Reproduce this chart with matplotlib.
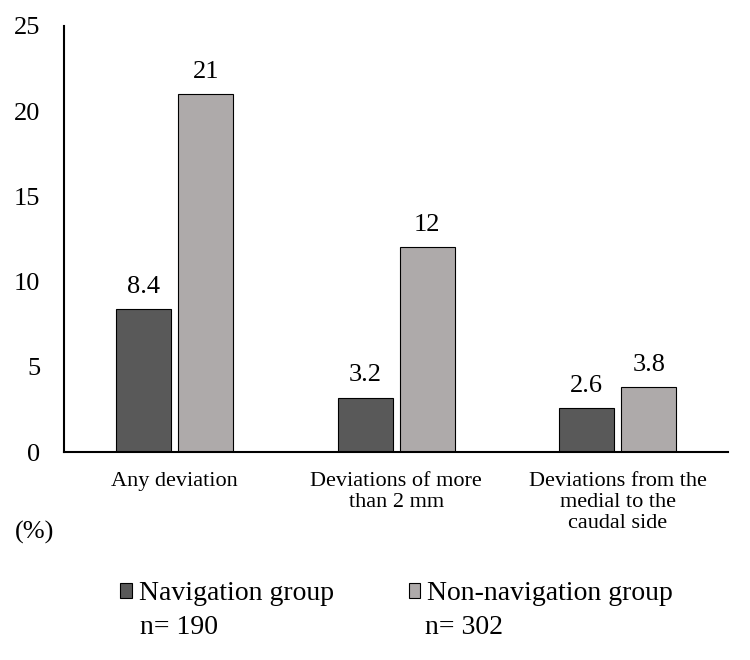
import numpy as np
import matplotlib.pyplot as plt
from matplotlib.patches import Patch

plt.rcParams['font.family'] = ['Liberation Serif', 'DejaVu Serif']

# data
categories = ['Any deviation', 'Deviations of more\nthan 2 mm', 'Deviations from the\nmedial to the\ncaudal side']
navigation = [8.4, 3.2, 2.6]
non_navigation = [21, 12, 3.8]
series_names = ['Navigation group', 'Non-navigation group']
series_n = ['n= 190', 'n= 302']
yticks = [0, 5, 10, 15, 20, 25]

dark = '#595959'
light = '#AEAAAA'

fig = plt.figure(figsize=(7.5, 6.6), dpi=100)
ax = fig.add_axes([0.0853, 0.315, 0.886, 0.646])

x = np.arange(len(categories))
w = 0.25
off = 0.14
b1 = ax.bar(x - off, navigation, w, color=dark, edgecolor='black', linewidth=0.8)
b2 = ax.bar(x + off, non_navigation, w, color=light, edgecolor='black', linewidth=0.8)

for bars, vals in [(b1, navigation), (b2, non_navigation)]:
    for bar, v in zip(bars, vals):
        ax.annotate(f'{v:g}', (bar.get_x() + bar.get_width() / 2, v),
                    xytext=(0, 8), textcoords='offset points',
                    ha='center', va='bottom', fontsize=19)

ax.set_xlim(-0.5, len(categories) - 0.5)
ax.set_ylim(0, 25)
ax.set_yticks(yticks)
ax.set_yticklabels([str(t) for t in yticks], fontsize=19)
ax.set_xticks(x)
ax.set_xticklabels(categories, fontsize=16, linespacing=1.15, va='top')
ax.tick_params(axis='y', length=0, pad=17)
ax.tick_params(axis='x', length=0, pad=14)
for s in ['top', 'right']:
    ax.spines[s].set_visible(False)
ax.spines['left'].set_linewidth(1.5)
ax.spines['bottom'].set_linewidth(1.5)

fig.text(15 / 750, 1 - 532 / 660, '(%)', fontsize=19, va='center', ha='left')

handles = [Patch(facecolor=dark, edgecolor='black', linewidth=0.8),
           Patch(facecolor=light, edgecolor='black', linewidth=0.8)]
fig.legend(handles, series_names, ncol=2, loc='center left',
           bbox_to_anchor=(120 / 750, 1 - 594 / 660), frameon=False,
           fontsize=20, handlelength=0.42, handleheight=0.42,
           handletextpad=0.25, columnspacing=2.7, borderpad=0, borderaxespad=0)
fig.text(140 / 750, 1 - 628 / 660, series_n[0], fontsize=20, va='center', ha='left')
fig.text(425 / 750, 1 - 628 / 660, series_n[1], fontsize=20, va='center', ha='left')

fig.savefig('out.png', dpi=100)
